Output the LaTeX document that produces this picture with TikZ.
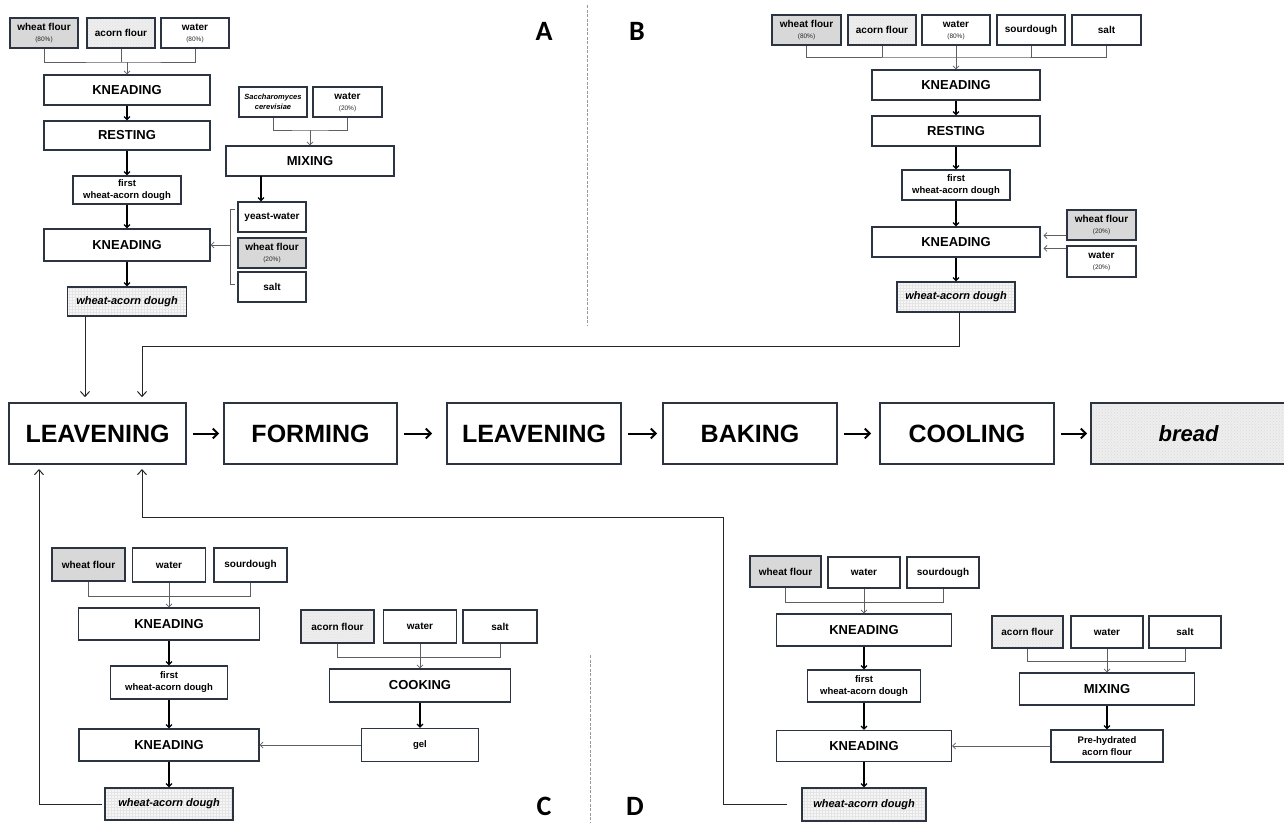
\documentclass[tikz,border=0pt]{standalone}
\usepackage{fontspec}
\setmainfont{Liberation Sans}
\newfontfamily\panelfont{Carlito}
\usepackage{tikz}
\usetikzlibrary{arrows.meta}
\usetikzlibrary{patterns}

\definecolor{boxline}{RGB}{44,52,66}
\definecolor{feedline}{RGB}{95,95,95}
\definecolor{wheatgray}{RGB}{216,216,216}
\definecolor{acornfill}{RGB}{238,238,238}
\definecolor{doughfill}{RGB}{246,246,246}

\newcommand{\pct}[1]{{\fontsize{6.5}{8}\selectfont\mdseries\color{black!85}(#1\%)}}

\tikzset{sz/.style 2 args={minimum width=#1pt, minimum height=#2pt}}
\tikzstyle{stage} = [draw=boxline, line width=1.6pt, inner sep=0pt, minimum height=61pt, font=\fontsize{25}{28}\selectfont\bfseries]
\tikzstyle{proc} = [draw=boxline, line width=1.1pt, inner sep=0pt, font=\fontsize{13}{15}\selectfont\bfseries]
\tikzstyle{ingr} = [draw=boxline, line width=1.1pt, inner sep=0pt, align=center, font=\fontsize{10}{11}\selectfont\bfseries]
\tikzstyle{inter} = [draw=boxline, line width=1.1pt, inner sep=0pt, align=center, font=\fontsize{9.5}{12}\selectfont\bfseries]
\tikzstyle{wheat} = [ingr, fill=wheatgray]
\tikzstyle{acorn} = [ingr, preaction={fill=acornfill}, preaction={pattern=crosshatch dots, pattern color=black!12}]
\tikzstyle{dough} = [draw=boxline, line width=1.1pt, inner sep=0pt, preaction={fill=doughfill}, preaction={pattern=grid, pattern color=black!10}, font=\fontsize{11}{13}\selectfont\bfseries\itshape]
\tikzstyle{arrow} = [line width=1.3pt, black, -{Straight Barb[length=3pt,width=6pt]}]
\tikzstyle{feed} = [line width=0.8pt, feedline]
\tikzstyle{feedarrow} = [feed, -{Straight Barb[length=3pt,width=6pt]}]
\tikzstyle{link} = [line width=1pt, black!85, -{Straight Barb[length=5pt,width=9pt]}, shorten >=5pt]
\tikzstyle{main} = [line width=2pt, black, -{Straight Barb[length=5pt,width=10pt]}, shorten <=6pt]
\tikzstyle{panel} = [font=\panelfont\fontsize{28}{30}\selectfont\bfseries]
\tikzstyle{sep} = [line width=1pt, black!40, dash pattern=on 3pt off 1.5pt]

\begin{document}
\begin{tikzpicture}[x=1pt, y=-1pt]
\useasboundingbox (0,0) rectangle (1284,822);

% main line
\node[stage, sz={177}{61}] (L1) at (97.5,433.5) {LEAVENING};
\node[stage, sz={173}{61}] (F) at (310.5,433.5) {FORMING};
\node[stage, sz={174}{61}] (L2) at (534,433.5) {LEAVENING};
\node[stage, sz={174}{61}] (B) at (750,433.5) {BAKING};
\node[stage, sz={174}{61}] (C) at (967,433.5) {COOLING};
\node[stage, sz={195}{61}, preaction={fill=acornfill}, preaction={pattern=crosshatch dots, pattern color=black!15}, font=\fontsize{22}{26}\selectfont\bfseries\itshape] (Br) at (1188.5,433.5) {bread};
\draw[main, shorten >=4pt] (L1) -- (F);
\draw[main, shorten >=14pt] (F) -- (L2);
\draw[main, shorten >=5pt] (L2) -- (B);
\draw[main, shorten >=8pt] (B) -- (C);
\draw[main, shorten >=3pt] (C) -- (Br);

% A
\node[wheat, sz={68}{30}] (aWF) at (44,33) {wheat flour\\\pct{80}};
\node[acorn, sz={68}{30}] (aAF) at (121,33) {acorn flour};
\node[ingr, sz={68}{30}] (aW) at (195,33) {water\\\pct{80}};
\node[proc, sz={166}{30}] (aK1) at (127,90) {KNEADING};
\node[proc, sz={166}{29}] (aR) at (127,135.5) {RESTING};
\node[inter, sz={108}{28}] (aF) at (127,190) {first\\wheat-acorn dough};
\node[proc, sz={166}{32}] (aK2) at (127,245) {KNEADING};
\node[dough, sz={119}{29}] (aD) at (127,301.5) {wheat-acorn dough};
\node[ingr, sz={68}{30}, font=\fontsize{7.5}{10}\selectfont\bfseries\itshape] (aS) at (273,102) {Saccharomyces\\cerevisiae};
\node[ingr, sz={69}{30}] (aW2) at (347.5,102) {water\\\pct{20}};
\node[proc, sz={168}{30}] (aM) at (310,161) {MIXING};
\node[ingr, sz={68}{30}] (aYW) at (272,217) {yeast-water};
\node[wheat, sz={68}{30}] (aWF2) at (272,253) {wheat flour\\\pct{20}};
\node[ingr, sz={68}{30}] (aSa) at (272,287) {salt};
\coordinate (aJ) at (127,62);
\coordinate (aJ2) at (310,130);
\coordinate (aBt) at (235,209);
\coordinate (aBb) at (235,284);
\coordinate (aBm) at (230,245);
\coordinate (aMo) at (261,176);
\coordinate (aOut) at (85,316);
\draw[feed] (aWF.south) |- (aJ) -| (aW.south);
\draw[feed] (aAF.south) -- (aAF.south |- aJ);
\draw[feedarrow] (aJ) -- (aK1.north);
\draw[arrow] (aK1) -- (aR);
\draw[arrow] (aR) -- (aF);
\draw[arrow] (aF) -- (aK2);
\draw[arrow] (aK2) -- (aD);
\draw[feed] (aS.south) |- (aJ2) -| (aW2.south);
\draw[feedarrow] (aJ2) -- (aM.north);
\draw[arrow] (aMo) -- (aMo |- aYW.north);
\draw[feed] (aBt) -- ++(-5,0) |- (aBb);
\draw[feedarrow] (aBm) -- (aK2.east);
\draw[link] (aOut) -- (aOut |- L1.north);
\node[panel] (labA) at (544,31) {A};

% B
\node[wheat, sz={69}{30}] (bWF) at (806.5,30) {wheat flour\\\pct{80}};
\node[acorn, sz={68}{30}] (bAF) at (882,30) {acorn flour};
\node[ingr, sz={68}{30}] (bW) at (956,30) {water\\\pct{80}};
\node[ingr, sz={68}{30}] (bSd) at (1031,30) {sourdough};
\node[ingr, sz={69}{30}] (bSa) at (1106.5,30) {salt};
\node[proc, sz={168}{30}] (bK1) at (956,85) {KNEADING};
\node[proc, sz={168}{30}] (bR) at (956,131) {RESTING};
\node[inter, sz={108}{30}] (bF) at (956,185) {first\\wheat-acorn dough};
\node[proc, sz={168}{30}] (bK2) at (956,242) {KNEADING};
\node[wheat, sz={69}{30}] (bWF2) at (1101.5,225) {wheat flour\\\pct{20}};
\node[ingr, sz={69}{31}] (bW2) at (1101.5,261.5) {water\\\pct{20}};
\node[dough, sz={118}{30}] (bD) at (956,297) {wheat-acorn dough};
\coordinate (bJ) at (956,57);
\coordinate (bOut) at (959,312);
\coordinate (bTurn) at (142,346);
\draw[feed] (bWF.south) |- (bJ) -| (bSa.south);
\draw[feed] (bAF.south) -- (bAF.south |- bJ);
\draw[feed] (bSd.south) -- (bSd.south |- bJ);
\draw[feedarrow] (bW) -- (bK1);
\draw[arrow] (bK1) -- (bR);
\draw[arrow] (bR) -- (bF);
\draw[arrow] (bF) -- (bK2);
\draw[arrow] (bK2) -- (bD);
\draw[feedarrow] ([yshift=5pt]bWF2.south west) -- ++(-23,0);
\draw[feedarrow] ([yshift=-3pt]bW2.north west) -- ++(-23,0);
\draw[link] (bOut) |- (bTurn) -- (bTurn |- L1.north);
\node[panel] (labB) at (637,31) {B};

\draw[sep] (587,5) -- (587,325);
\draw[sep] (590,655) -- (590,822);

% C
\node[wheat, sz={73}{33}] (cWF) at (88.5,564.5) {wheat flour};
\node[ingr, sz={73}{34}] (cW) at (169,565) {water};
\node[ingr, sz={73}{34}] (cSd) at (250.5,565) {sourdough};
\node[proc, sz={181}{32}] (cK1) at (169,624) {KNEADING};
\node[inter, sz={117}{33}] (cF) at (169,682.5) {first\\wheat-acorn dough};
\node[proc, sz={180}{32}] (cK2) at (169,745) {KNEADING};
\node[dough, sz={128}{32}] (cD) at (169,804) {wheat-acorn dough};
\node[acorn, sz={73}{33}] (cAF) at (337.5,626.5) {acorn flour};
\node[ingr, sz={73}{33}] (cW2) at (420,626.5) {water};
\node[ingr, sz={74}{33}] (cSa) at (500,626.5) {salt};
\node[proc, sz={181}{33}] (cCo) at (420,685.5) {COOKING};
\node[inter, sz={117}{33}] (cG) at (420,745) {gel};
\coordinate (cJ) at (169,596);
\coordinate (cJ2) at (420,657);
\coordinate (cIn) at (39,464);
\draw[feed] (cWF.south) |- (cJ) -| (cSd.south);
\draw[feedarrow] (cW) -- (cK1);
\draw[arrow] (cK1) -- (cF);
\draw[arrow] (cF) -- (cK2);
\draw[arrow] (cK2) -- (cD);
\draw[feed] (cAF.south) |- (cJ2) -| (cSa.south);
\draw[feedarrow] (cW2) -- (cCo);
\draw[arrow] (cCo) -- (cG);
\draw[feedarrow] (cG) -- (cK2);
\draw[link, shorten <=2pt] (cD.west) -| (cIn);
\node[panel] (labC) at (544,806) {C};

% D
\node[wheat, sz={71}{31}] (dWF) at (785.5,571.5) {wheat flour};
\node[ingr, sz={72}{31}] (dW) at (864,572.5) {water};
\node[ingr, sz={72}{31}] (dSd) at (943,572.5) {sourdough};
\node[proc, sz={175}{32}] (dK1) at (864,630) {KNEADING};
\node[inter, sz={113}{32}] (dF) at (864,686) {first\\wheat-acorn dough};
\node[proc, sz={175}{31}] (dK2) at (864,746) {KNEADING};
\node[dough, sz={124}{33}] (dD) at (864,804.5) {wheat-acorn dough};
\node[acorn, sz={71}{32}] (dAF) at (1027.5,632) {acorn flour};
\node[ingr, sz={72}{32}] (dW2) at (1107,632) {water};
\node[ingr, sz={72}{32}] (dSa) at (1185,632) {salt};
\node[proc, sz={175}{32}] (dM) at (1107,689) {MIXING};
\node[inter, sz={112}{32}] (dP) at (1107,746) {Pre-hydrated\\acorn flour};
\coordinate (dJ) at (864,602);
\coordinate (dJ2) at (1107,661);
\coordinate (dTurn) at (723,517);
\coordinate (dIn) at (142,464);
\draw[feed] (dWF.south) |- (dJ) -| (dSd.south);
\draw[feedarrow] (dW) -- (dK1);
\draw[arrow] (dK1) -- (dF);
\draw[arrow] (dF) -- (dK2);
\draw[arrow] (dK2) -- (dD);
\draw[feed] (dAF.south) |- (dJ2) -| (dSa.south);
\draw[feedarrow] (dW2) -- (dM);
\draw[arrow] (dM) -- (dP);
\draw[feedarrow] (dP) -- (dK2);
\draw[link, shorten <=14pt] (dD.west) -| (dTurn) -| (dIn);
\node[panel] (labD) at (635,806) {D};
\end{tikzpicture}
\end{document}
